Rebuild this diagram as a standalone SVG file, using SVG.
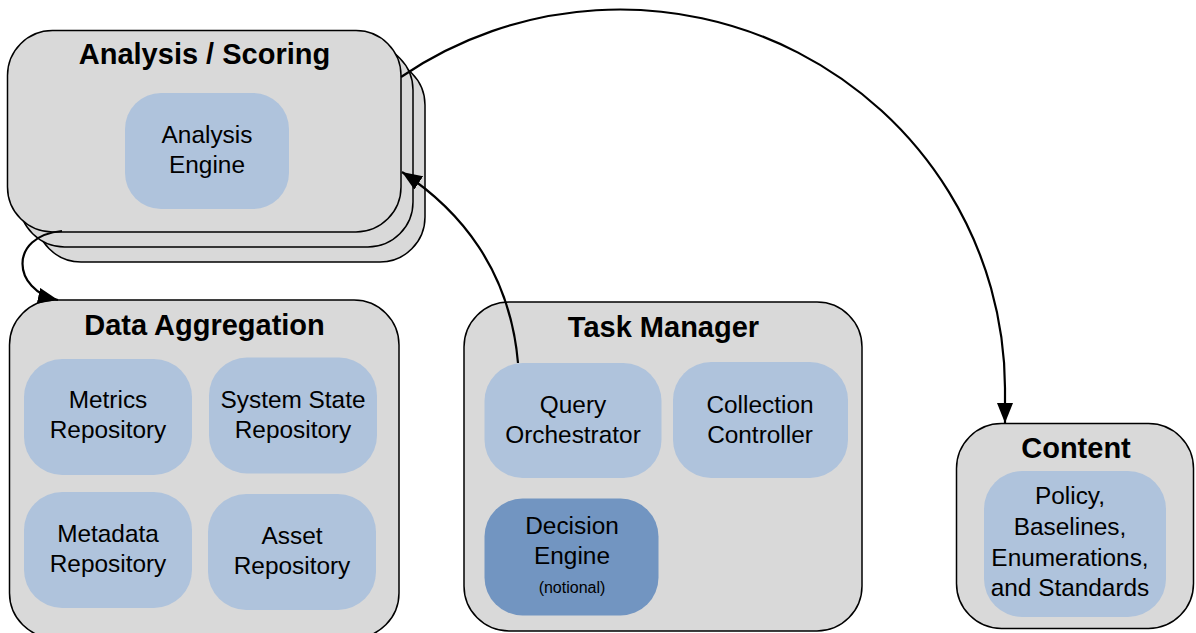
<svg xmlns="http://www.w3.org/2000/svg" width="1196" height="633" viewBox="0 0 1196 633">
<style>
.box{fill:#d9d9d9;stroke:#000;stroke-width:1.5}
.inner{fill:#afc3dc;stroke:none}
.dark{fill:#7295c1;stroke:none}
.title{font-family:"Liberation Sans",Arial,sans-serif;font-weight:bold;font-size:29px;fill:#000;text-anchor:middle}
.lbl{font-family:"Liberation Sans",Arial,sans-serif;font-size:24.4px;fill:#000;text-anchor:middle}
.small{font-family:"Liberation Sans",Arial,sans-serif;font-size:16px;fill:#000;text-anchor:middle}
.conn{fill:none;stroke:#000;stroke-width:2.2}
</style>
<defs>
<marker id="arr" viewBox="0 0 20 16" refX="20" refY="8" markerWidth="20" markerHeight="16" markerUnits="userSpaceOnUse" orient="auto">
<path d="M0,0 L20,8 L0,16 Z" fill="#000"/>
</marker>
</defs>
<rect width="1196" height="633" fill="#fff"/>

<g id="analysis-scoring">
<rect class="box" x="36" y="60" width="389" height="202" rx="45" ry="45"/>
<rect class="box" x="19.5" y="45" width="393.5" height="202" rx="45" ry="45"/>
<rect class="box" x="7.5" y="30.5" width="393.5" height="201.5" rx="45" ry="45"/>
<text class="title" x="204.5" y="64">Analysis / Scoring</text>
<g id="analysis-engine">
<rect class="inner" x="125" y="93" width="164" height="116" rx="36" ry="36"/>
<text class="lbl" x="207" y="143">Analysis</text>
<text class="lbl" x="207" y="173">Engine</text>
</g>
</g>

<g id="data-aggregation">
<rect class="box" x="9.5" y="300" width="389.5" height="338" rx="45" ry="45"/>
<text class="title" x="204.5" y="335">Data Aggregation</text>
<g id="metrics-repository">
<rect class="inner" x="24" y="359" width="168" height="116" rx="38" ry="38"/>
<text class="lbl" x="108" y="408">Metrics</text>
<text class="lbl" x="108" y="438">Repository</text>
</g>
<g id="system-state-repository">
<rect class="inner" x="209" y="357.5" width="168" height="116" rx="38" ry="38"/>
<text class="lbl" x="293" y="408">System State</text>
<text class="lbl" x="293" y="438">Repository</text>
</g>
<g id="metadata-repository">
<rect class="inner" x="24" y="492" width="168" height="116" rx="38" ry="38"/>
<text class="lbl" x="108" y="542">Metadata</text>
<text class="lbl" x="108" y="572">Repository</text>
</g>
<g id="asset-repository">
<rect class="inner" x="208" y="494" width="168" height="116" rx="38" ry="38"/>
<text class="lbl" x="292" y="544">Asset</text>
<text class="lbl" x="292" y="574">Repository</text>
</g>
</g>

<g id="task-manager">
<rect class="box" x="464" y="302" width="398" height="329" rx="45" ry="45"/>
<text class="title" x="663.5" y="337">Task Manager</text>
<g id="query-orchestrator">
<rect class="inner" x="484.5" y="363" width="177" height="115" rx="38" ry="38"/>
<text class="lbl" x="573" y="413">Query</text>
<text class="lbl" x="573" y="443">Orchestrator</text>
</g>
<g id="collection-controller">
<rect class="inner" x="673" y="362" width="175" height="116" rx="38" ry="38"/>
<text class="lbl" x="760" y="413">Collection</text>
<text class="lbl" x="760" y="443">Controller</text>
</g>
<g id="decision-engine">
<rect class="dark" x="484.5" y="498.5" width="174" height="117" rx="38" ry="38"/>
<text class="lbl" x="572" y="534">Decision</text>
<text class="lbl" x="572" y="564">Engine</text>
<text class="small" x="572" y="593">(notional)</text>
</g>
</g>

<g id="content">
<rect class="box" x="956.5" y="423.5" width="237" height="205" rx="45" ry="45"/>
<text class="title" x="1076" y="458">Content</text>
<g id="policy">
<rect class="inner" x="984" y="471" width="182" height="146" rx="38" ry="38"/>
<text class="lbl" x="1070" y="503.5">Policy,</text>
<text class="lbl" x="1070" y="534.5">Baselines,</text>
<text class="lbl" x="1070" y="565.5">Enumerations,</text>
<text class="lbl" x="1070" y="596">and Standards</text>
</g>
</g>

<g id="connectors">
<path class="conn" d="M401,77 A385,380 0 0 1 1005,388 L1005,423" marker-end="url(#arr)"/>
<path class="conn" d="M518,363 C510,270 460,210 402,172" marker-end="url(#arr)"/>
<path class="conn" d="M62,231 C8,236 12,290 58,300" marker-end="url(#arr)"/>
</g>
</svg>
